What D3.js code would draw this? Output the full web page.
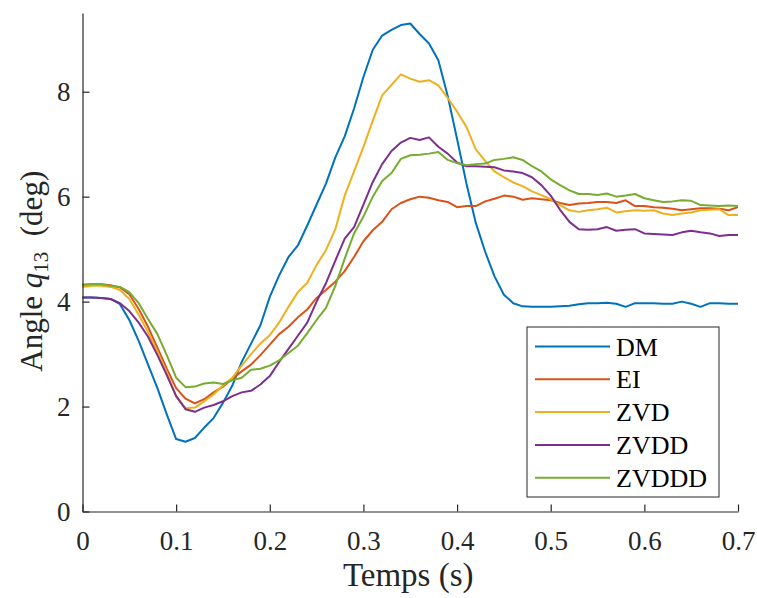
<!DOCTYPE html>
<html>
<head>
<meta charset="utf-8">
<script src="https://cdn.jsdelivr.net/npm/d3@7/dist/d3.min.js"></script>
<style>
  html, body { margin: 0; padding: 0; background: #fff; }
  svg { display: block; }
</style>
</head>
<body>
<svg id="chart" width="757" height="598"></svg>
<script>
// ---- Data ----
const time = [0,0.01,0.02,0.03,0.04,0.05,0.06,0.07,0.08,0.09,
  0.10,0.11,0.12,0.13,0.14,0.15,0.16,0.17,0.18,0.19,
  0.20,0.21,0.22,0.23,0.24,0.25,0.26,0.27,0.28,0.29,
  0.30,0.31,0.32,0.33,0.34,0.35,0.36,0.37,0.38,0.39,
  0.40,0.41,0.42,0.43,0.44,0.45,0.46,0.47,0.48,0.49,
  0.50,0.51,0.52,0.53,0.54,0.55,0.56,0.57,0.58,0.59,
  0.60,0.61,0.62,0.63,0.64,0.65,0.66,0.67,0.68,0.69,0.70];

const seriesNames = ["DM", "EI", "ZVD", "ZVDD", "ZVDDD"];
const seriesColors = ["#0072BD", "#D95319", "#EDB120", "#7E2F8E", "#77AC30"];

const DM = [4.08,4.08,4.07,4.05,3.95,3.65,3.25,2.80,2.35,1.85,
  1.38,1.33,1.40,1.60,1.78,2.07,2.40,2.85,3.20,3.55,
  4.09,4.50,4.85,5.07,5.45,5.85,6.25,6.75,7.15,7.68,
  8.28,8.80,9.07,9.18,9.27,9.30,9.10,8.92,8.60,7.92,
  7.10,6.25,5.50,4.95,4.48,4.13,3.97,3.91,3.90,3.90,
  3.90,3.91,3.92,3.95,3.97,3.97,3.98,3.96,3.90,3.97,
  3.97,3.97,3.96,3.96,4.00,3.96,3.90,3.97,3.97,3.96,3.96];

const EI = [4.32,4.33,4.33,4.31,4.27,4.14,3.86,3.52,3.12,2.72,
  2.35,2.15,2.06,2.14,2.27,2.38,2.53,2.67,2.80,2.98,
  3.18,3.38,3.52,3.70,3.85,4.07,4.22,4.38,4.58,4.85,
  5.15,5.36,5.52,5.76,5.88,5.95,6.00,5.98,5.93,5.90,
  5.80,5.82,5.82,5.91,5.96,6.02,6.00,5.94,5.97,5.95,
  5.93,5.88,5.84,5.87,5.88,5.90,5.90,5.88,5.93,5.82,
  5.82,5.80,5.79,5.77,5.74,5.76,5.78,5.78,5.77,5.74,5.80];

const ZVD = [4.28,4.30,4.30,4.28,4.22,4.05,3.75,3.42,3.05,2.65,
  2.20,1.97,1.98,2.10,2.23,2.40,2.55,2.78,3.00,3.20,
  3.36,3.60,3.90,4.18,4.36,4.70,4.98,5.38,6.02,6.48,
  6.95,7.45,7.93,8.13,8.33,8.25,8.19,8.22,8.12,7.88,
  7.62,7.33,6.90,6.68,6.48,6.37,6.27,6.20,6.10,6.03,
  5.95,5.84,5.74,5.71,5.74,5.76,5.79,5.70,5.72,5.74,
  5.73,5.74,5.68,5.65,5.68,5.70,5.74,5.75,5.76,5.65,5.65];

const ZVDD = [4.08,4.08,4.07,4.05,3.97,3.82,3.60,3.33,2.98,2.60,
  2.20,1.95,1.90,1.98,2.03,2.10,2.20,2.27,2.30,2.42,
  2.58,2.85,3.10,3.35,3.60,4.00,4.35,4.78,5.20,5.42,
  5.85,6.28,6.62,6.87,7.03,7.12,7.08,7.13,6.95,6.82,
  6.65,6.58,6.58,6.57,6.56,6.50,6.48,6.45,6.37,6.22,
  6.02,5.75,5.52,5.38,5.37,5.38,5.42,5.35,5.37,5.38,
  5.30,5.29,5.28,5.27,5.32,5.35,5.32,5.30,5.25,5.27,5.27];

const ZVDDD = [4.32,4.33,4.33,4.30,4.28,4.18,3.97,3.67,3.38,2.98,
  2.55,2.37,2.38,2.44,2.46,2.43,2.50,2.55,2.70,2.72,
  2.78,2.88,3.02,3.16,3.40,3.65,3.88,4.30,4.82,5.30,
  5.62,6.00,6.30,6.45,6.72,6.79,6.80,6.82,6.85,6.70,
  6.64,6.60,6.62,6.63,6.70,6.72,6.75,6.70,6.58,6.48,
  6.33,6.22,6.12,6.05,6.05,6.03,6.06,6.00,6.02,6.05,
  5.97,5.93,5.90,5.91,5.93,5.92,5.84,5.83,5.82,5.83,5.82];

const xTicks = [0, 0.1, 0.2, 0.3, 0.4, 0.5, 0.6, 0.7];
const xTickLabels = ["0", "0.1", "0.2", "0.3", "0.4", "0.5", "0.6", "0.7"];
const yTicks = [0, 2, 4, 6, 8];
const yTickLabels = ["0", "2", "4", "6", "8"];

const seriesValues = [DM, EI, ZVD, ZVDD, ZVDDD];

const FONT = "'Liberation Serif', 'Times New Roman', serif";

// ---- Layout ----
const svg = d3.select("#chart");
const mLeft = 82.5, mRight = 738, mTop = 13, mBottom = 511.5;

const x = d3.scaleLinear().domain([0, 0.7]).range([mLeft, mRight]);
const y = d3.scaleLinear().domain([0, 9.5]).range([mBottom, mTop]);

const axisColor = "#262626";

// Lines
const line = d3.line().x(d => x(d[0])).y(d => y(d[1]));
const g = svg.append("g");
seriesValues.forEach((vals, i) => {
  const pts = time.map((t, j) => [t, vals[j]]);
  g.append("path")
    .attr("d", line(pts))
    .attr("fill", "none")
    .attr("stroke", seriesColors[i])
    .attr("stroke-width", 2)
    .attr("stroke-linejoin", "round");
});

// X axis
const xAxis = d3.axisBottom(x).tickValues(xTicks)
  .tickFormat((d, i) => xTickLabels[i]).tickSizeInner(-7).tickSizeOuter(0).tickPadding(19);
const gx = svg.append("g").attr("transform", `translate(0,${mBottom})`).call(xAxis)
  .attr("font-family", FONT).attr("font-size", 27);
gx.select(".domain").attr("stroke", axisColor).attr("stroke-width", 1.2);
gx.selectAll(".tick line").attr("stroke", axisColor).attr("stroke-width", 1.2);
gx.selectAll(".tick text").attr("fill", axisColor);

// Y axis
const yAxis = d3.axisLeft(y).tickValues(yTicks)
  .tickFormat((d, i) => yTickLabels[i]).tickSizeInner(-7).tickSizeOuter(0).tickPadding(12);
const gy = svg.append("g").attr("transform", `translate(${mLeft},0)`).call(yAxis)
  .attr("font-family", FONT).attr("font-size", 27);
gy.select(".domain").attr("stroke", axisColor).attr("stroke-width", 1.2);
gy.selectAll(".tick line").attr("stroke", axisColor).attr("stroke-width", 1.2);
gy.selectAll(".tick text").attr("fill", axisColor);

// X label
svg.append("text")
  .attr("x", (mLeft + mRight) / 2 - 2).attr("y", 586)
  .attr("text-anchor", "middle").attr("font-size", 33).attr("font-family", FONT)
  .attr("fill", axisColor)
  .text("Temps (s)");

// Y label
const yl = svg.append("text")
  .attr("transform", `translate(42,${(mTop + mBottom) / 2 + 9}) rotate(-90)`)
  .attr("text-anchor", "middle").attr("font-size", 31).attr("font-family", FONT)
  .attr("fill", axisColor)
  .style("white-space", "pre");
yl.append("tspan").text("Angle ");
yl.append("tspan").attr("font-style", "italic").text("q");
yl.append("tspan").attr("font-size", 21).attr("dy", 6).text("13");
yl.append("tspan").attr("dy", -6).text("  (deg)");

// Legend
const lg = svg.append("g");
lg.append("rect").attr("x", 527).attr("y", 327).attr("width", 192).attr("height", 170)
  .attr("fill", "#fff").attr("stroke", axisColor).attr("stroke-width", 1);
seriesNames.forEach((name, i) => {
  const ry = 346.5 + i * 32.8;
  lg.append("line").attr("x1", 535).attr("x2", 610).attr("y1", ry).attr("y2", ry)
    .attr("stroke", seriesColors[i]).attr("stroke-width", 2);
  lg.append("text").attr("x", 616).attr("y", ry + 9)
    .attr("font-size", 26).attr("font-family", FONT).attr("fill", "#000").text(name);
});
</script>
</body>
</html>
